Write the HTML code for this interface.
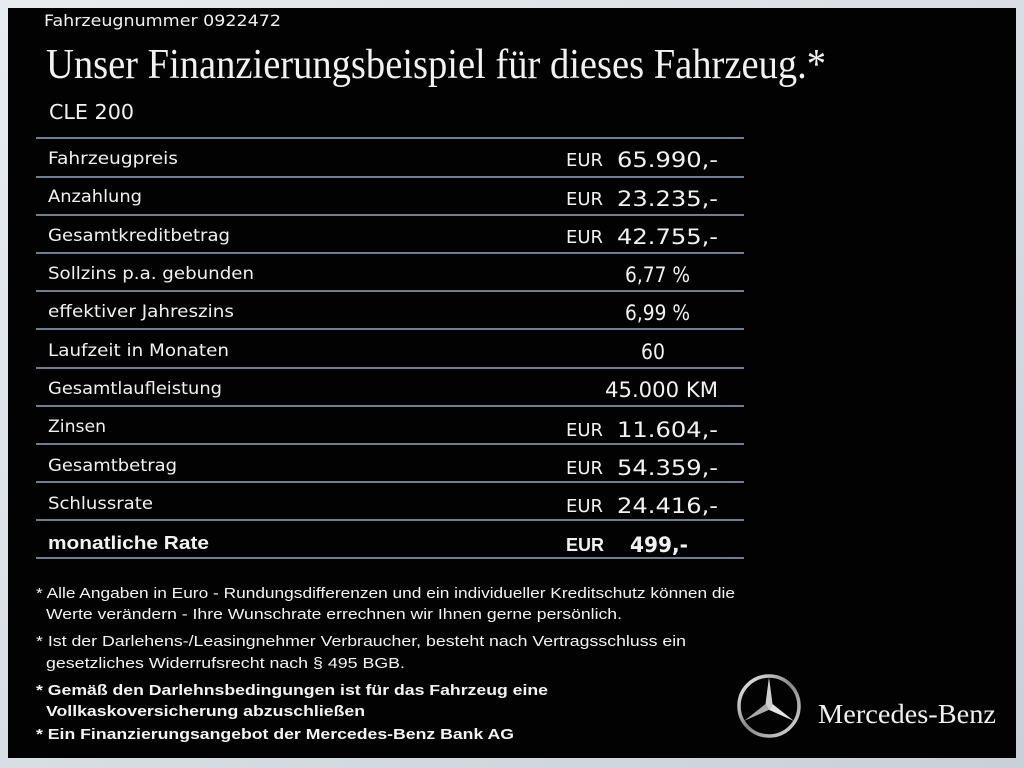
<!DOCTYPE html>
<html><head><meta charset="utf-8"><style>
html,body{margin:0;padding:0;background:#dfe3e8;}
svg{display:block}
</style></head><body>
<svg width="1024" height="768" xmlns="http://www.w3.org/2000/svg">
<defs>
<linearGradient id="bd" x1="0" y1="0" x2="1" y2="1"><stop offset="0" stop-color="#e8ecf0"/><stop offset="1" stop-color="#c9d0d8"/></linearGradient>
<linearGradient id="ring" x1="0" y1="0" x2="1" y2="1"><stop offset="0" stop-color="#f4f4f4"/><stop offset="0.5" stop-color="#888"/><stop offset="1" stop-color="#ddd"/></linearGradient>
</defs>
<rect width="1024" height="768" fill="url(#bd)"/>
<rect x="8" y="8" width="1008" height="750" fill="#020203"/>
<g font-family="DejaVu Sans, Liberation Sans, sans-serif" fill="#f2f2f2">
<text x="44" y="26" font-size="16" textLength="237" lengthAdjust="spacingAndGlyphs">Fahrzeugnummer  0922472</text>
<text x="46" y="78" font-family="Liberation Serif, serif" font-size="42" textLength="780" lengthAdjust="spacingAndGlyphs">Unser Finanzierungsbeispiel für dieses Fahrzeug.*</text>
<text x="49" y="119" font-size="20" textLength="85" lengthAdjust="spacingAndGlyphs">CLE 200</text>
</g>
<g stroke="#6f7d8e" stroke-width="2">
<line x1="36" x2="744" y1="138" y2="138"/><line x1="36" x2="744" y1="177" y2="177"/>
<line x1="36" x2="744" y1="215" y2="215"/><line x1="36" x2="744" y1="253" y2="253"/>
<line x1="36" x2="744" y1="291" y2="291"/><line x1="36" x2="744" y1="329" y2="329"/>
<line x1="36" x2="744" y1="368" y2="368"/><line x1="36" x2="744" y1="406" y2="406"/>
<line x1="36" x2="744" y1="444" y2="444"/><line x1="36" x2="744" y1="482" y2="482"/>
<line x1="36" x2="744" y1="520" y2="520"/><line x1="36" x2="744" y1="558" y2="558"/>
</g>
<g font-family="DejaVu Sans, Liberation Sans, sans-serif" fill="#f2f2f2" font-size="17" lengthAdjust="spacingAndGlyphs">
<text x="48" y="164" textLength="130" lengthAdjust="spacingAndGlyphs">Fahrzeugpreis</text>
<text x="48" y="202" textLength="94" lengthAdjust="spacingAndGlyphs">Anzahlung</text>
<text x="48" y="241" textLength="182" lengthAdjust="spacingAndGlyphs">Gesamtkreditbetrag</text>
<text x="48" y="279" textLength="206" lengthAdjust="spacingAndGlyphs">Sollzins p.a. gebunden</text>
<text x="48" y="317" textLength="186" lengthAdjust="spacingAndGlyphs">effektiver Jahreszins</text>
<text x="48" y="356" textLength="181" lengthAdjust="spacingAndGlyphs">Laufzeit in Monaten</text>
<text x="48" y="394" textLength="174" lengthAdjust="spacingAndGlyphs">Gesamtlaufleistung</text>
<text x="48" y="432" textLength="58" lengthAdjust="spacingAndGlyphs">Zinsen</text>
<text x="48" y="471" textLength="129" lengthAdjust="spacingAndGlyphs">Gesamtbetrag</text>
<text x="48" y="509" textLength="105" lengthAdjust="spacingAndGlyphs">Schlussrate</text>
<text x="48" y="549" font-weight="bold" font-family="Liberation Sans, sans-serif" font-size="18" textLength="161" lengthAdjust="spacingAndGlyphs">monatliche Rate</text>
</g>
<g font-family="DejaVu Sans, Liberation Sans, sans-serif" fill="#f2f2f2">
<g font-size="18">
<text x="566" y="166" textLength="37" lengthAdjust="spacingAndGlyphs">EUR</text>
<text x="566" y="205" textLength="37" lengthAdjust="spacingAndGlyphs">EUR</text>
<text x="566" y="243" textLength="37" lengthAdjust="spacingAndGlyphs">EUR</text>
<text x="566" y="436" textLength="37" lengthAdjust="spacingAndGlyphs">EUR</text>
<text x="566" y="474" textLength="37" lengthAdjust="spacingAndGlyphs">EUR</text>
<text x="566" y="512" textLength="37" lengthAdjust="spacingAndGlyphs">EUR</text>
</g>
<g font-size="21">
<text x="617" y="167" textLength="101" lengthAdjust="spacingAndGlyphs">65.990,-</text>
<text x="617" y="206" textLength="101" lengthAdjust="spacingAndGlyphs">23.235,-</text>
<text x="617" y="244" textLength="101" lengthAdjust="spacingAndGlyphs">42.755,-</text>
<text x="625" y="282" textLength="65" lengthAdjust="spacingAndGlyphs">6,77 %</text>
<text x="625" y="320" textLength="65" lengthAdjust="spacingAndGlyphs">6,99 %</text>
<text x="641" y="359" textLength="24" lengthAdjust="spacingAndGlyphs">60</text>
<text x="605" y="397" textLength="113" lengthAdjust="spacingAndGlyphs">45.000 KM</text>
<text x="617" y="437" textLength="101" lengthAdjust="spacingAndGlyphs">11.604,-</text>
<text x="617" y="475" textLength="101" lengthAdjust="spacingAndGlyphs">54.359,-</text>
<text x="617" y="513" textLength="101" lengthAdjust="spacingAndGlyphs">24.416,-</text>
</g>
<text x="566" y="551" font-size="18" font-weight="bold" font-family="Liberation Sans, sans-serif" textLength="38" lengthAdjust="spacingAndGlyphs">EUR</text>
<text x="630" y="552" font-size="21" font-weight="bold" textLength="58" lengthAdjust="spacingAndGlyphs">499,-</text>
</g>
<g font-family="Liberation Sans, Arial, sans-serif" fill="#f4f4f4" font-size="15">
<text x="36" y="598" textLength="699" lengthAdjust="spacingAndGlyphs">* Alle Angaben in Euro - Rundungsdifferenzen und ein individueller Kreditschutz können die</text>
<text x="46" y="619" textLength="576" lengthAdjust="spacingAndGlyphs">Werte verändern - Ihre Wunschrate errechnen wir Ihnen gerne persönlich.</text>
<text x="36" y="646" textLength="650" lengthAdjust="spacingAndGlyphs">* Ist der Darlehens-/Leasingnehmer Verbraucher, besteht nach Vertragsschluss ein</text>
<text x="46" y="668" textLength="359" lengthAdjust="spacingAndGlyphs">gesetzliches  Widerrufsrecht nach § 495 BGB.</text>
<g font-weight="bold">
<text x="36" y="695" textLength="512" lengthAdjust="spacingAndGlyphs">* Gemäß den Darlehnsbedingungen ist für das Fahrzeug eine</text>
<text x="46" y="716" textLength="319" lengthAdjust="spacingAndGlyphs">Vollkaskoversicherung abzuschließen</text>
<text x="36" y="739" textLength="478" lengthAdjust="spacingAndGlyphs">* Ein Finanzierungsangebot der Mercedes-Benz Bank AG</text>
</g>
</g>
<g transform="translate(769,706)">
<circle r="30" fill="none" stroke="url(#ring)" stroke-width="3.5"/>
<polygon points="0,-29 3.5,-2 0,4 -3.5,-2" fill="#cfcfcf"/>
<polygon points="-25,15 -3.5,-2 0,4 2,3" fill="#aaa"/>
<polygon points="25,15 3.5,-2 0,4 -2,3" fill="#e4e4e4"/>
</g>
<text x="818" y="723" font-family="Liberation Serif, serif" font-size="27" fill="#f0f0f0" textLength="178" lengthAdjust="spacingAndGlyphs">Mercedes-Benz</text>
</svg>
</body></html>
